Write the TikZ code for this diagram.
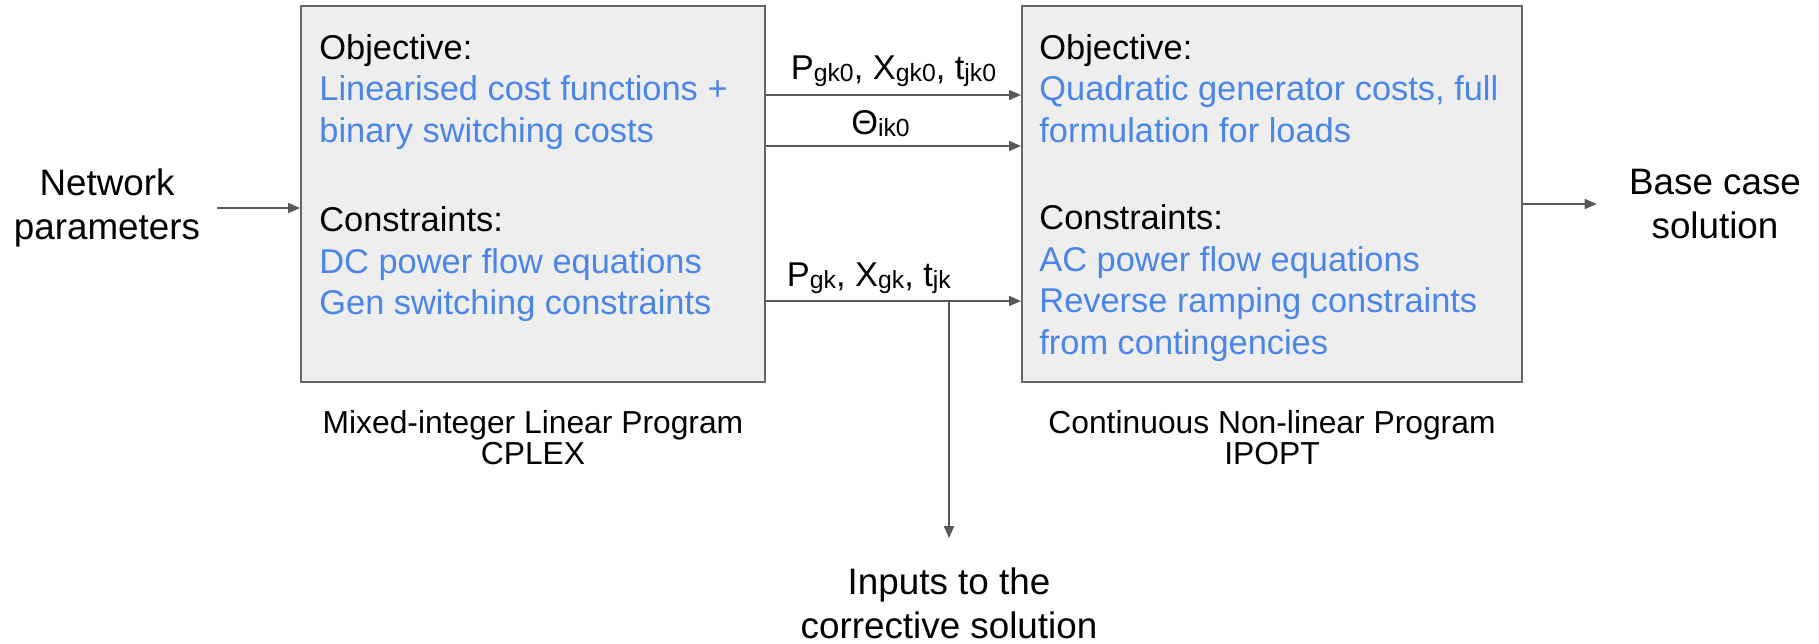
\documentclass[tikz,border=0pt]{standalone}
\usepackage{fontspec}
\setmainfont{Liberation Sans}
\usetikzlibrary{arrows.meta, positioning, calc}

\newcommand{\lowsub}[1]{\raisebox{-0.15ex}{\fontsize{12.4}{12}\selectfont #1}}
\newcommand{\bluetext}[1]{\textcolor{termblue}{#1}}

\begin{document}
\begin{tikzpicture}[
    x=0.5pt, y=-0.5pt,
    every node/.style={inner sep=0pt},
]

% ---------------------------------------------------------------- colours
\definecolor{boxfill}{HTML}{EEEEEE}
\definecolor{boxline}{HTML}{666666}
\definecolor{arrowgray}{HTML}{595959}
\definecolor{termblue}{HTML}{4A86E8}

% ---------------------------------------------------------------- styles
\tikzset{
    solver/.style={draw=boxline, fill=boxfill, line width=1pt,
                   minimum width=#1, minimum height=188pt},
    flow/.style={-{Triangle[length=6pt, width=5pt]}, line width=0.9pt,
                 arrowgray},
    boxtext/.style={align=left, anchor=north west,
                    font=\fontsize{17.2}{20.8}\selectfont},
    flowlabel/.style={font=\fontsize{17.2}{20}\selectfont, text=black},
    caption/.style={align=center, font=\fontsize{15.9}{15.5}\selectfont},
    term/.style={align=center, font=\fontsize{18.4}{22}\selectfont},
}

\useasboundingbox (0,0) rectangle (1819,643);

% ----------------------------------------------------------------------
% the two solvers
% ----------------------------------------------------------------------
\node[solver=232pt] (milp) at (533,194) {};
\node[solver=250pt] (nlp) at (1272,194) {};

\node[boxtext] (milptext) at ([xshift=9.5pt, yshift=-14.5pt]milp.north west)
    {Objective:\\
     \bluetext{Linearised cost functions +}\\
     \bluetext{binary switching costs}\\[23.7pt]
     Constraints:\\
     \bluetext{DC power flow equations}\\
     \bluetext{Gen switching constraints}};

\node[boxtext] (nlptext) at ([xshift=9pt, yshift=-14.5pt]nlp.north west)
    {Objective:\\
     \bluetext{Quadratic generator costs, full}\\
     \bluetext{formulation for loads}\\[22.7pt]
     Constraints:\\
     \bluetext{AC power flow equations}\\
     \bluetext{Reverse ramping constraints}\\
     \bluetext{from contingencies}};

\node[caption, below=13.5pt of milp] (milpcap)
    {Mixed-integer Linear Program\\CPLEX};
\node[caption, below=13.5pt of nlp] (nlpcap)
    {Continuous Non-linear Program\\IPOPT};

% ----------------------------------------------------------------------
% outside terms
% ----------------------------------------------------------------------
\node[term] (netpar) at (107,208) {Network\\parameters};
\node[term] (basecase) at (1715,204) {Base case\\solution};
\node[term] (inputs) at (949,603) {Inputs to the\\corrective solution};

% ----------------------------------------------------------------------
% flows
% ----------------------------------------------------------------------
\draw[flow] ([xshift=8.5pt]netpar.east) -- (milp.west |- netpar.east);
\draw[flow] (nlp.east |- basecase.west) -- ([xshift=-16pt]basecase.west);

% base case values passed across
\draw[flow] ([yshift=-45pt]milp.north east) -- ([yshift=-45pt]nlp.north west)
    node[flowlabel, midway, anchor=base, yshift=8pt] (pvars0)
    {P\lowsub{gk0}, X\lowsub{gk0}, t\lowsub{jk0}};
\draw[flow] ([yshift=-70.5pt]milp.north east) -- ([yshift=-70.5pt]nlp.north west)
    node[flowlabel, midway, anchor=base, yshift=6pt, xshift=-6.5pt] (theta0)
    {Θ\lowsub{ik0}};

% contingency values, also sent down to the corrective step
\coordinate (gkout) at ([yshift=-148pt]milp.north east);
\coordinate (gkin) at (nlp.west |- gkout);
\draw[flow] (gkout) -- (gkin)
    node[flowlabel, pos=0, anchor=base west, xshift=10pt, yshift=7.5pt] (pvars)
    {P\lowsub{gk}, X\lowsub{gk}, t\lowsub{jk}};
\coordinate (split) at (inputs.north |- gkout);
\draw[flow] (split) -- ([yshift=14.5pt]inputs.north);

\end{tikzpicture}
\end{document}
